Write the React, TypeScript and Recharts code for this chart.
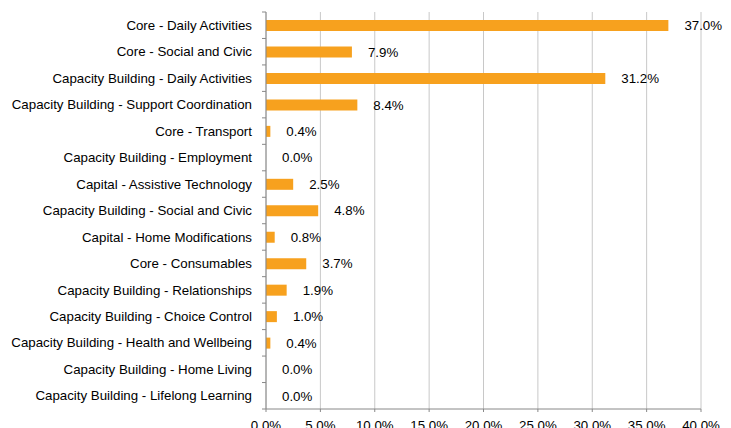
import React from 'react';
import { BarChart, Bar, XAxis, YAxis, CartesianGrid, LabelList } from 'recharts';

const categories = [
  'Core - Daily Activities',
  'Core - Social and Civic',
  'Capacity Building - Daily Activities',
  'Capacity Building - Support Coordination',
  'Core - Transport',
  'Capacity Building - Employment',
  'Capital - Assistive Technology',
  'Capacity Building - Social and Civic',
  'Capital - Home Modifications',
  'Core - Consumables',
  'Capacity Building - Relationships',
  'Capacity Building - Choice Control',
  'Capacity Building - Health and Wellbeing',
  'Capacity Building - Home Living',
  'Capacity Building - Lifelong Learning',
];

const shares = [37.0, 7.9, 31.2, 8.4, 0.4, 0.0, 2.5, 4.8, 0.8, 3.7, 1.9, 1.0, 0.4, 0.0, 0.0];

const xTicks = [0, 5, 10, 15, 20, 25, 30, 35, 40];

const data = categories.map((name, i) => ({ name, value: shares[i] }));

const W = 731;
const H = 428;
const TOP = 12;
const BOTTOM = 19;
const AXIS_X = 266;
const BAND = (H - TOP - BOTTOM) / categories.length;
const FONT = 'Arial, "Liberation Sans", sans-serif';

const YTick = (props: any) => {
  const { y, payload, index } = props;
  return (
    <g>
      <text x={AXIS_X - 14} y={y} dy="0.35em" textAnchor="end" fontSize={13.3} fill="#000" fontFamily={FONT}>
        {payload.value}
      </text>
      {index === 0 && (
        <line x1={AXIS_X - 4} x2={AXIS_X} y1={y - BAND / 2} y2={y - BAND / 2} stroke="#888" />
      )}
      <line x1={AXIS_X - 4} x2={AXIS_X} y1={y + BAND / 2} y2={y + BAND / 2} stroke="#888" />
    </g>
  );
};

const ValueLabel = (props: any) => {
  const { x, y, width, height, value } = props;
  return (
    <text
      x={Number(x) + Number(width || 0) + 16}
      y={Number(y) + Number(height) / 2}
      dy="0.35em"
      textAnchor="start"
      fontSize={13.3}
      fill="#000"
      fontFamily={FONT}
    >
      {Number(value).toFixed(1) + '%'}
    </text>
  );
};

export default function App() {
  return (
    <div style={{ position: 'absolute', left: 0, top: 0, width: W, height: H, background: '#fff', overflow: 'hidden' }}>
      <BarChart
        width={W}
        height={H}
        data={data}
        layout="vertical"
        margin={{ top: TOP, right: 30, left: 0, bottom: 0 }}
        barCategoryGap={0}
        style={{ overflow: 'visible' }}
      >
        <CartesianGrid horizontal={false} vertical={true} stroke="#c8c8c8" />
        <XAxis
          type="number"
          domain={[0, 40]}
          ticks={xTicks}
          interval={0}
          height={BOTTOM}
          tickSize={3}
          tickMargin={9}
          stroke="#888"
          tick={{ fontSize: 13.3, fill: '#000', fontFamily: FONT }}
          tickFormatter={(v: number) => v.toFixed(1) + '%'}
        />
        <YAxis
          type="category"
          dataKey="name"
          width={AXIS_X}
          interval={0}
          tickLine={false}
          stroke="#888"
          tick={<YTick />}
        />
        <Bar dataKey="value" fill="#F7A11E" barSize={11} minPointSize={0.01} isAnimationActive={false}>
          <LabelList dataKey="value" content={<ValueLabel />} />
        </Bar>
      </BarChart>
    </div>
  );
}
